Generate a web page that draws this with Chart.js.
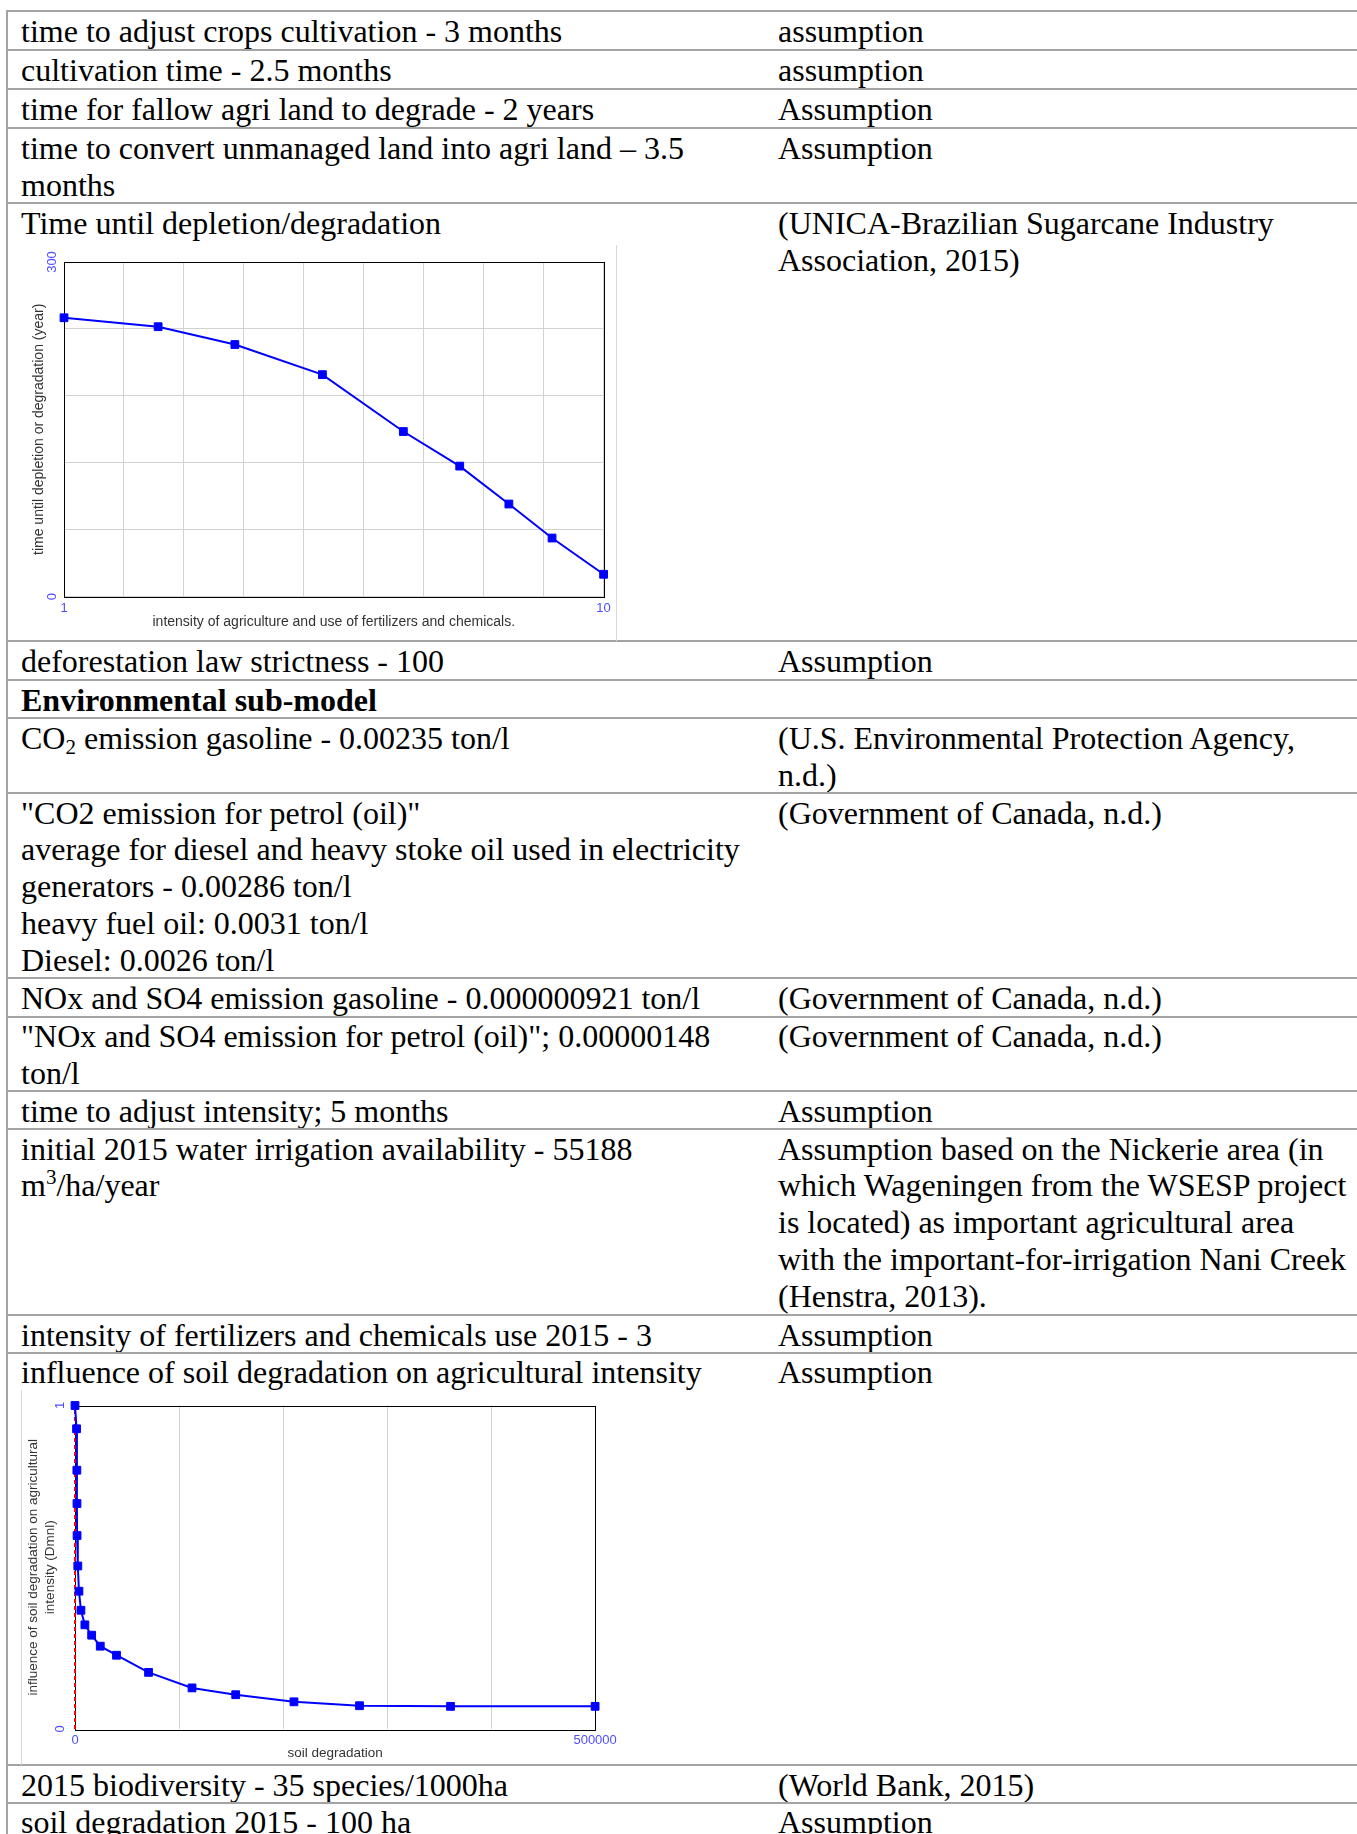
<!DOCTYPE html>
<html><head><meta charset="utf-8">
<script src="https://cdn.jsdelivr.net/npm/chart.js@4.4.1/dist/chart.umd.min.js"></script>
<style>
html,body{margin:0;padding:0;background:#fff;}
#page{position:relative;width:1357px;height:1834px;overflow:hidden;background:#fff;}
.hl{position:absolute;left:6px;right:0;height:2px;background:#a3a3a3;}
.vl{position:absolute;top:10px;left:6px;width:2px;bottom:0;background:#a3a3a3;}
.t{position:absolute;font-family:'Liberation Serif','Times New Roman',serif;font-size:32px;line-height:36.8px;white-space:nowrap;color:#000;}
.t sub{font-size:21px;line-height:0;vertical-align:-5px;}
.t sup{font-size:21px;line-height:0;vertical-align:12px;}
.frameR{position:absolute;width:1px;background:#d9d9d9;}
canvas{position:absolute;}
</style></head>
<body><div id="page"></div>
<script>
// ---- Chart 1 data: Time until depletion/degradation ----
const intensityX = [1, 2.57, 3.85, 5.31, 6.66, 7.6, 8.42, 9.14, 10];
const depletionYears = [250, 242, 226, 199, 148, 117, 83, 52.5, 20];
const x1TickValues = [1, 10];
const x1TickLabels = ['1', '10'];
const y1TickValues = [0, 300];
const y1TickLabels = ['0', '300'];

// ---- Chart 2 data: influence of soil degradation on agricultural intensity ----
const soilDegradation = [0, 1500, 1800, 1900, 2000, 2700, 3800, 5700, 9500, 16000, 24300, 39900, 70700, 112500, 154500, 210500, 273500, 361000, 500000];
const influence = [1, 0.928, 0.8, 0.697, 0.598, 0.504, 0.426, 0.367, 0.322, 0.29, 0.256, 0.228, 0.175, 0.127, 0.106, 0.084, 0.072, 0.07, 0.07];
const refLineX = [0, 0];
const refLineY = [0, 1];
const x2TickValues = [0, 500000];
const x2TickLabels = ['0', '500000'];
const y2TickValues = [0, 1];
const y2TickLabels = ['0', '1'];

// ---- table text ----
const rows = [
  [11, ['time to adjust crops cultivation - 3 months'], ['assumption']],
  [50, ['cultivation time - 2.5 months'], ['assumption']],
  [89.3, ['time for fallow agri land to degrade - 2 years'], ['Assumption']],
  [128.3, ['time to convert unmanaged land into agri land – 3.5', 'months'], ['Assumption']],
  [203.3, ['Time until depletion/degradation'], ['(UNICA-Brazilian Sugarcane Industry', 'Association, 2015)']],
  [641, ['deforestation law strictness - 100'], ['Assumption']],
  [680, ['<b>Environmental sub-model</b>'], []],
  [718.3, ['CO<sub>2</sub> emission gasoline - 0.00235 ton/l'], ['(U.S. Environmental Protection Agency,', 'n.d.)']],
  [793, ['"CO2 emission for petrol (oil)"', 'average for diesel and heavy stoke oil used in electricity', 'generators - 0.00286 ton/l', 'heavy fuel oil: 0.0031 ton/l', 'Diesel: 0.0026 ton/l'], ['(Government of Canada, n.d.)']],
  [978, ['NOx and SO4 emission gasoline - 0.000000921 ton/l'], ['(Government of Canada, n.d.)']],
  [1016.8, ['"NOx and SO4 emission for petrol (oil)"; 0.00000148', 'ton/l'], ['(Government of Canada, n.d.)']],
  [1091.3, ['time to adjust intensity; 5 months'], ['Assumption']],
  [1129, ['initial 2015 water irrigation availability - 55188', 'm<sup>3</sup>/ha/year'], ['Assumption based on the Nickerie area (in', 'which Wageningen from the WSESP project', 'is located) as important agricultural area', 'with the important-for-irrigation Nani Creek', '(Henstra, 2013).']],
  [1315, ['intensity of fertilizers and chemicals use 2015 - 3'], ['Assumption']],
  [1352.5, ['influence of soil degradation on agricultural intensity'], ['Assumption']],
  [1765, ['2015 biodiversity - 35 species/1000ha'], ['(World Bank, 2015)']],
  [1802.5, ['soil degradation 2015 - 100 ha'], ['Assumption']]
];

const page = document.getElementById('page');
let html = '<div class="vl"></div>';
rows.forEach(([b, left, right]) => {
  html += `<div class="hl" style="top:${b - 1}px"></div>`;
  html += `<div class="t" style="left:21px;top:${b + 1.6}px">${left.join('<br>')}</div>`;
  if (right.length) html += `<div class="t" style="left:778px;top:${b + 1.6}px">${right.join('<br>')}</div>`;
});
html += '<div class="frameR" style="left:616px;top:245px;height:396px"></div>';
html += '<div class="frameR" style="left:21px;top:1390px;height:375px"></div>';
html += '<canvas id="c1" width="593" height="392" style="left:23px;top:245px"></canvas>';
html += '<canvas id="c2" width="598" height="375" style="left:22px;top:1390px"></canvas>';
page.innerHTML = html;

const SANS = "'Liberation Sans', Arial, sans-serif";
Chart.defaults.font.family = SANS;
const TICK_COLOR = '#4d4dff';
const TITLE_COLOR = '#333333';
const GRID_COLOR = '#d2d2d2';

const framePlugin = {
  id: 'frameAndYTicks',
  beforeDatasetsDraw(chart) {
    const {ctx, chartArea: a} = chart;
    ctx.save();
    ctx.strokeStyle = '#000';
    ctx.lineWidth = 1;
    ctx.strokeRect(Math.round(a.left) + 0.5, Math.round(a.top) + 0.5, Math.round(a.right - a.left), Math.round(a.bottom - a.top));
    ctx.restore();
  },
  afterDraw(chart, args, opts) {
    const {ctx, scales} = chart;
    ctx.save();
    ctx.fillStyle = TICK_COLOR;
    ctx.font = `13px ${SANS}`;
    ctx.textAlign = 'center';
    ctx.textBaseline = 'middle';
    opts.values.forEach((v, i) => {
      const y = scales.y.getPixelForValue(v);
      ctx.save();
      ctx.translate(opts.x, y);
      ctx.rotate(-Math.PI / 2);
      ctx.fillText(opts.labels[i], 0, 0);
      ctx.restore();
    });
    ctx.restore();
  }
};

function lineDataset(xs, ys) {
  return {
    data: xs.map((x, i) => ({x, y: ys[i]})),
    borderColor: '#0000ff', backgroundColor: '#0000ff', borderWidth: 2,
    pointStyle: 'rect', pointRadius: 5.5, pointHoverRadius: 5.5,
    pointBackgroundColor: '#0000ff', pointBorderColor: '#0000ff', pointBorderWidth: 1,
    clip: false, tension: 0
  };
}
function pickLabel(values, labels) {
  return (v) => { const i = values.indexOf(v); return i >= 0 ? labels[i] : ''; };
}

new Chart(document.getElementById('c1'), {
  type: 'line',
  data: {datasets: [lineDataset(intensityX, depletionYears)]},
  options: {
    responsive: false, animation: false, events: [],
    layout: {padding: {left: 0, top: 17, right: 12.4, bottom: 0}},
    plugins: {legend: {display: false}, tooltip: {enabled: false},
      frameAndYTicks: {values: y1TickValues, labels: y1TickLabels, x: 29.5}},
    scales: {
      x: {type: 'linear', min: 1, max: 10,
        afterFit(s) { s.height = 40.4; },
        grid: {color: GRID_COLOR, drawTicks: false}, border: {display: false},
        ticks: {stepSize: 1, autoSkip: false, maxRotation: 0, padding: 3.6, color: TICK_COLOR, font: {size: 13}, callback: pickLabel(x1TickValues, x1TickLabels)},
        title: {display: true, text: 'intensity of agriculture and use of fertilizers and chemicals.', color: TITLE_COLOR, font: {size: 14}, padding: {top: 0, bottom: 6.1}}
      },
      y: {type: 'linear', min: 0, max: 300,
        afterFit(s) { s.width = 41; },
        grid: {color: GRID_COLOR, drawTicks: false}, border: {display: false},
        ticks: {display: false, stepSize: 60},
        title: {display: true, text: 'time until depletion or degradation (year)', color: TITLE_COLOR, font: {size: 14}, padding: {top: 7.6, bottom: 0}}
      }
    }
  },
  plugins: [framePlugin]
});

new Chart(document.getElementById('c2'), {
  type: 'line',
  data: {datasets: [
    lineDataset(soilDegradation, influence),
    {data: refLineX.map((x, i) => ({x, y: refLineY[i]})), borderColor: '#ff0000', borderWidth: 2, borderDash: [4, 3], pointRadius: 0, clip: false}
  ]},
  options: {
    responsive: false, animation: false, events: [],
    layout: {padding: {left: 0, top: 15.5, right: 24.6, bottom: 0}},
    plugins: {legend: {display: false}, tooltip: {enabled: false},
      frameAndYTicks: {values: y2TickValues, labels: y2TickLabels, x: 38.6}},
    scales: {
      x: {type: 'linear', min: 0, max: 500000,
        afterFit(s) { s.height = 36; },
        grid: {color: GRID_COLOR, drawTicks: false}, border: {display: false},
        ticks: {stepSize: 100000, autoSkip: false, maxRotation: 0, padding: 3.2, color: TICK_COLOR, font: {size: 13}, callback: pickLabel(x2TickValues, x2TickLabels)},
        title: {display: true, text: 'soil degradation', color: TITLE_COLOR, font: {size: 13.5}, padding: {top: 0, bottom: 3.9}}
      },
      y: {type: 'linear', min: 0, max: 1,
        afterFit(s) { s.width = 53; },
        grid: {display: false}, border: {display: false},
        ticks: {display: false, stepSize: 1},
        title: {display: true, text: ['influence of soil degradation on agricultural', 'intensity (Dmnl)'], color: TITLE_COLOR, font: {size: 13.5, lineHeight: 17 / 13.5}, padding: {top: 3.2, bottom: 0}}
      }
    }
  },
  plugins: [framePlugin]
});
</script>
</body></html>
